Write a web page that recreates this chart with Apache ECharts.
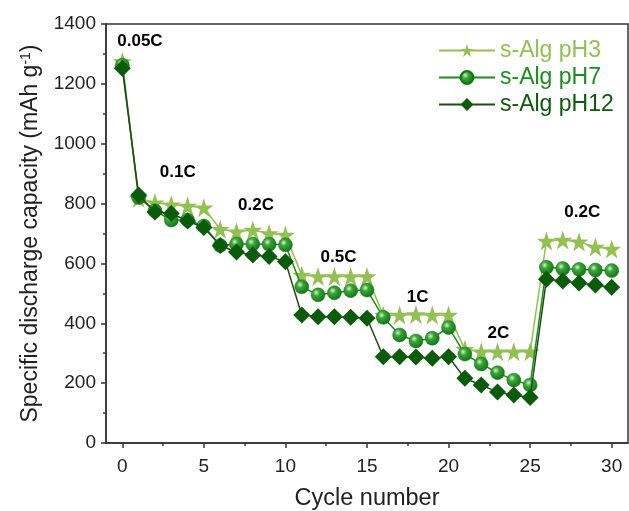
<!DOCTYPE html>
<html>
<head>
<meta charset="utf-8">
<script src="https://cdn.jsdelivr.net/npm/echarts@6/dist/echarts.min.js"></script>
<style>html,body{margin:0;padding:0;background:#fff;}#chart{width:629px;height:511px;}</style>
</head>
<body>
<div id="chart"></div>
<script>
// ---- data ----
const cycles = [0,1,2,3,4,5,6,7,8,9,10,11,12,13,14,15,16,17,18,19,20,21,22,23,24,25,26,27,28,29,30];
const pH3  = [1275,818,803,796,792,786,714,706,712,700,695,561,556,556,556,556,428,428,429,428,428,313,305,305,305,305,675,678,672,655,648];
const pH7  = [1262,820,776,745,745,725,660,665,665,664,662,522,495,502,509,511,420,361,341,350,386,297,264,235,210,194,587,583,580,578,576];
const pH12 = [1252,829,772,767,742,720,660,638,628,623,606,428,422,422,420,417,288,288,287,283,288,216,194,170,160,152,547,541,535,528,520];
const seriesNames = ['s-Alg pH3','s-Alg pH7','s-Alg pH12'];
const xTicks = [0,5,10,15,20,25,30];
const xMinorTicks = [2.5,7.5,12.5,17.5,22.5,27.5];
const rateLabels = ['0.05C','0.1C','0.2C','0.5C','1C','2C','0.2C'];
const rateLabelX = [1.08,3.4,8.2,13.25,18.1,23.05,28.2];
const rateLabelY = [1343,905,795,621,488,368,772];

// ---- styles ----
const FONT = 'Liberation Sans, Arial, sans-serif';
const C3 = '#93C151', C7 = '#17901A', C12 = '#0A5C0A';
const starPath = 'path://M50,0 L61.2,34.5 L97.6,34.5 L68.2,55.9 L79.4,90.5 L50,69.1 L20.6,90.5 L31.8,55.9 L2.4,34.5 L38.8,34.5 Z';
const ball = {type:'radial', x:0.38, y:0.35, r:0.75, colorStops:[
  {offset:0, color:'#d8f3d0'},{offset:0.3, color:'#3aa53a'},{offset:1, color:'#0a6a0a'}]};

const pairs = arr => cycles.map((c,i)=>[c, arr[i]]);

const chart = echarts.init(document.getElementById('chart'), null, {renderer:'canvas'});
const axisCol = '#333';
chart.setOption({
  animation:false,
  textStyle:{fontFamily:FONT},
  grid:{left:106, top:24, right:1, bottom:68, show:true, borderColor:axisCol, borderWidth:1.5,
        containLabel:false, outerBoundsMode:'none'},
  legend:{
    orient:'vertical', left:433, top:34, itemWidth:56, itemHeight:16, itemGap:4,
    textStyle:{fontFamily:FONT, fontSize:23, lineHeight:23},
    data:[
      {name:seriesNames[0], textStyle:{color:C3}},
      {name:seriesNames[1], textStyle:{color:C7}},
      {name:seriesNames[2], textStyle:{color:C12}}
    ]
  },
  xAxis:[{
    type:'value', min:-1, max:31,
    name:'Cycle number', nameLocation:'middle', nameGap:44,
    nameTextStyle:{fontFamily:FONT, fontSize:23.5, color:'#222'},
    axisLine:{show:true, onZero:false, lineStyle:{color:axisCol, width:1.5}},
    axisTick:{show:true, customValues:xTicks, length:5, lineStyle:{color:axisCol, width:1.5}},
    axisLabel:{customValues:xTicks, fontSize:19, color:'#222', margin:14, fontFamily:FONT},
    splitLine:{show:false}
  },{
    type:'value', min:-1, max:31, position:'bottom',
    axisLine:{show:false, onZero:false},
    axisTick:{show:true, customValues:xMinorTicks, length:3, lineStyle:{color:axisCol, width:1.5}},
    axisLabel:{show:false},
    splitLine:{show:false}
  }],
  yAxis:{
    type:'value', min:0, max:1400, interval:200,
    name:'{a|Specific discharge capacity (mAh g}{s|-1}{a|)}',
    nameLocation:'middle', nameGap:64,
    nameTextStyle:{
      rich:{
        a:{fontFamily:FONT, fontSize:23, color:'#222'},
        s:{fontFamily:FONT, fontSize:14, color:'#222', verticalAlign:'top', padding:[0,0,8,0]}
      }
    },
    axisLine:{show:true, onZero:false, lineStyle:{color:axisCol, width:1.5}},
    axisTick:{show:true, length:5, lineStyle:{color:axisCol, width:1.5}},
    minorTick:{show:true, splitNumber:2, length:3, lineStyle:{color:axisCol, width:1.5}},
    axisLabel:{fontSize:19, color:'#222', margin:10, fontFamily:FONT, formatter:v=>String(v)},
    splitLine:{show:false}
  },
  series:[
    {name:seriesNames[0], type:'line', data:pairs(pH3), symbol:starPath, symbolSize:19,
     itemStyle:{color:C3}, lineStyle:{color:C3, width:1.5}, z:2},
    {name:seriesNames[1], type:'line', data:pairs(pH7), symbol:'circle', symbolSize:14,
     itemStyle:{color:ball, borderColor:'#0d7a0d', borderWidth:0.5}, lineStyle:{color:C7, width:1.5}, z:3},
    {name:seriesNames[2], type:'line', data:pairs(pH12), symbol:'diamond', symbolSize:[17,17],
     itemStyle:{color:C12}, lineStyle:{color:'#1F4A14', width:1.5}, z:4},
    {name:'rates', type:'scatter', silent:true, symbolSize:1, z:5,
     itemStyle:{color:'rgba(0,0,0,0)'},
     data:rateLabels.map((t,i)=>({value:[rateLabelX[i], rateLabelY[i]], name:t})),
     label:{show:true, position:'inside', formatter:p=>p.name, fontFamily:FONT, fontSize:17, fontWeight:'bold', color:'#000', textBorderWidth:0, opacity:1}}
  ]
});
</script>
</body>
</html>
